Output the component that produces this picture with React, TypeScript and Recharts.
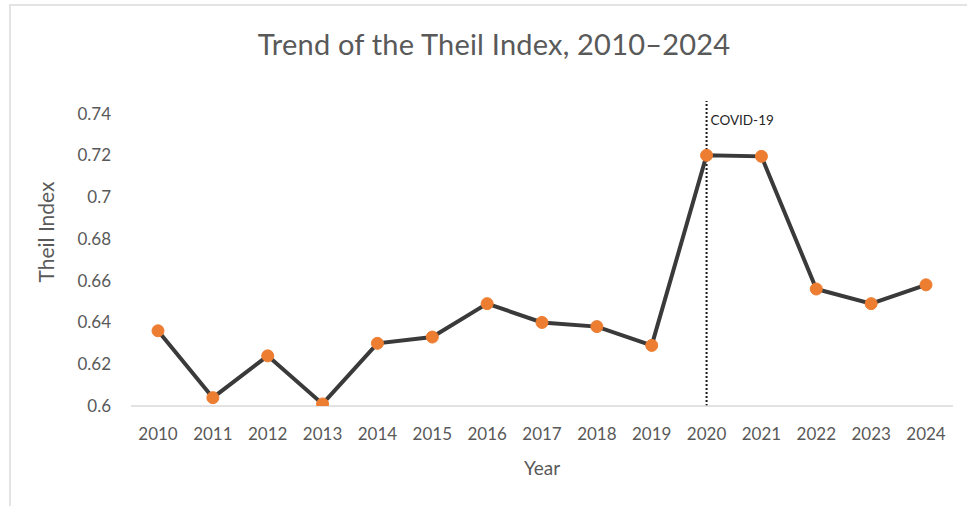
import React from 'react';
import { LineChart, Line, XAxis, YAxis, ReferenceLine } from 'recharts';

const years = ['2010', '2011', '2012', '2013', '2014', '2015', '2016', '2017', '2018', '2019', '2020', '2021', '2022', '2023', '2024'];
const theil = [0.636, 0.604, 0.624, 0.601, 0.630, 0.633, 0.649, 0.640, 0.638, 0.629, 0.720, 0.7195, 0.656, 0.649, 0.658];
const yTicks = [0.6, 0.62, 0.64, 0.66, 0.68, 0.7, 0.72, 0.74];

const FONT = 'Lato, "Open Sans", sans-serif';
const GREY = '#595959';

const data = years.map((year, i) => ({ year, theil: theil[i] }));

const App: React.FC = () => {
  return (
    <div
      style={{
        position: 'absolute',
        top: 0,
        left: 0,
        width: 967,
        height: 506,
        background: '#fff',
        fontFamily: FONT,
      }}
    >
      {/* frame edges of the original chart object */}
      <div style={{ position: 'absolute', top: 4, left: 9, right: 0, bottom: 0, borderTop: '2px solid #e3e3e3', borderLeft: '2px solid #e3e3e3' }} />
      <div
        style={{
          position: 'absolute',
          top: 27,
          left: 0,
          width: 988,
          textAlign: 'center',
          fontSize: 29,
          color: GREY,
          lineHeight: '34px',
          letterSpacing: 0.2,
        }}
      >
        Trend of the Theil Index, 2010–2024
      </div>
      <div style={{ position: 'absolute', top: 0, left: 0 }}>
        <LineChart width={967} height={506} data={data} margin={{ top: 101, right: 14, bottom: 30, left: 20 }}>
          <XAxis
            dataKey="year"
            padding={{ left: 27, right: 27 }}
            axisLine={{ stroke: '#d9d9d9', strokeWidth: 1.5 }}
            tickLine={false}
            tickSize={0}
            tickMargin={22}
            height={70}
            interval={0}
            tick={{ fill: GREY, fontSize: 17, fontFamily: FONT }}
            label={{ value: 'Year', position: 'insideBottom', offset: 1, fill: GREY, fontSize: 19, fontFamily: FONT }}
          />
          <YAxis
            domain={[0.6, 0.746]}
            ticks={yTicks}
            allowDataOverflow
            axisLine={false}
            tickLine={false}
            tickSize={0}
            tickMargin={20}
            width={111}
            tick={{ fill: GREY, fontSize: 17, fontFamily: FONT }}
            label={{
              content: (props: any) => {
                const vb = props.viewBox;
                const cx = 45;
                const cy = vb.y + 131;
                return (
                  <text
                    x={cx}
                    y={cy}
                    transform={`rotate(-90 ${cx} ${cy})`}
                    textAnchor="middle"
                    dominantBaseline="central"
                    fill={GREY}
                    fontSize={21}
                    fontFamily={FONT}
                  >
                    Theil Index
                  </text>
                );
              },
            }}
          />
          <ReferenceLine
            x="2020"
            stroke="#1a1a1a"
            strokeWidth={2}
            strokeDasharray="2 2"
            label={{
              content: (props: any) => {
                const vb = props.viewBox;
                return (
                  <text x={vb.x + 4} y={vb.y + 24} fill="#262626" fontSize={13.5} fontFamily={FONT}>
                    COVID-19
                  </text>
                );
              },
            }}
          />
          <Line
            type="linear"
            dataKey="theil"
            stroke="#3a3a3a"
            strokeWidth={4}
            dot={{ r: 6, fill: '#ED7D31', stroke: '#ED7D31', strokeWidth: 1 }}
            activeDot={false}
            isAnimationActive={false}
          />
        </LineChart>
      </div>
    </div>
  );
};

export default App;
